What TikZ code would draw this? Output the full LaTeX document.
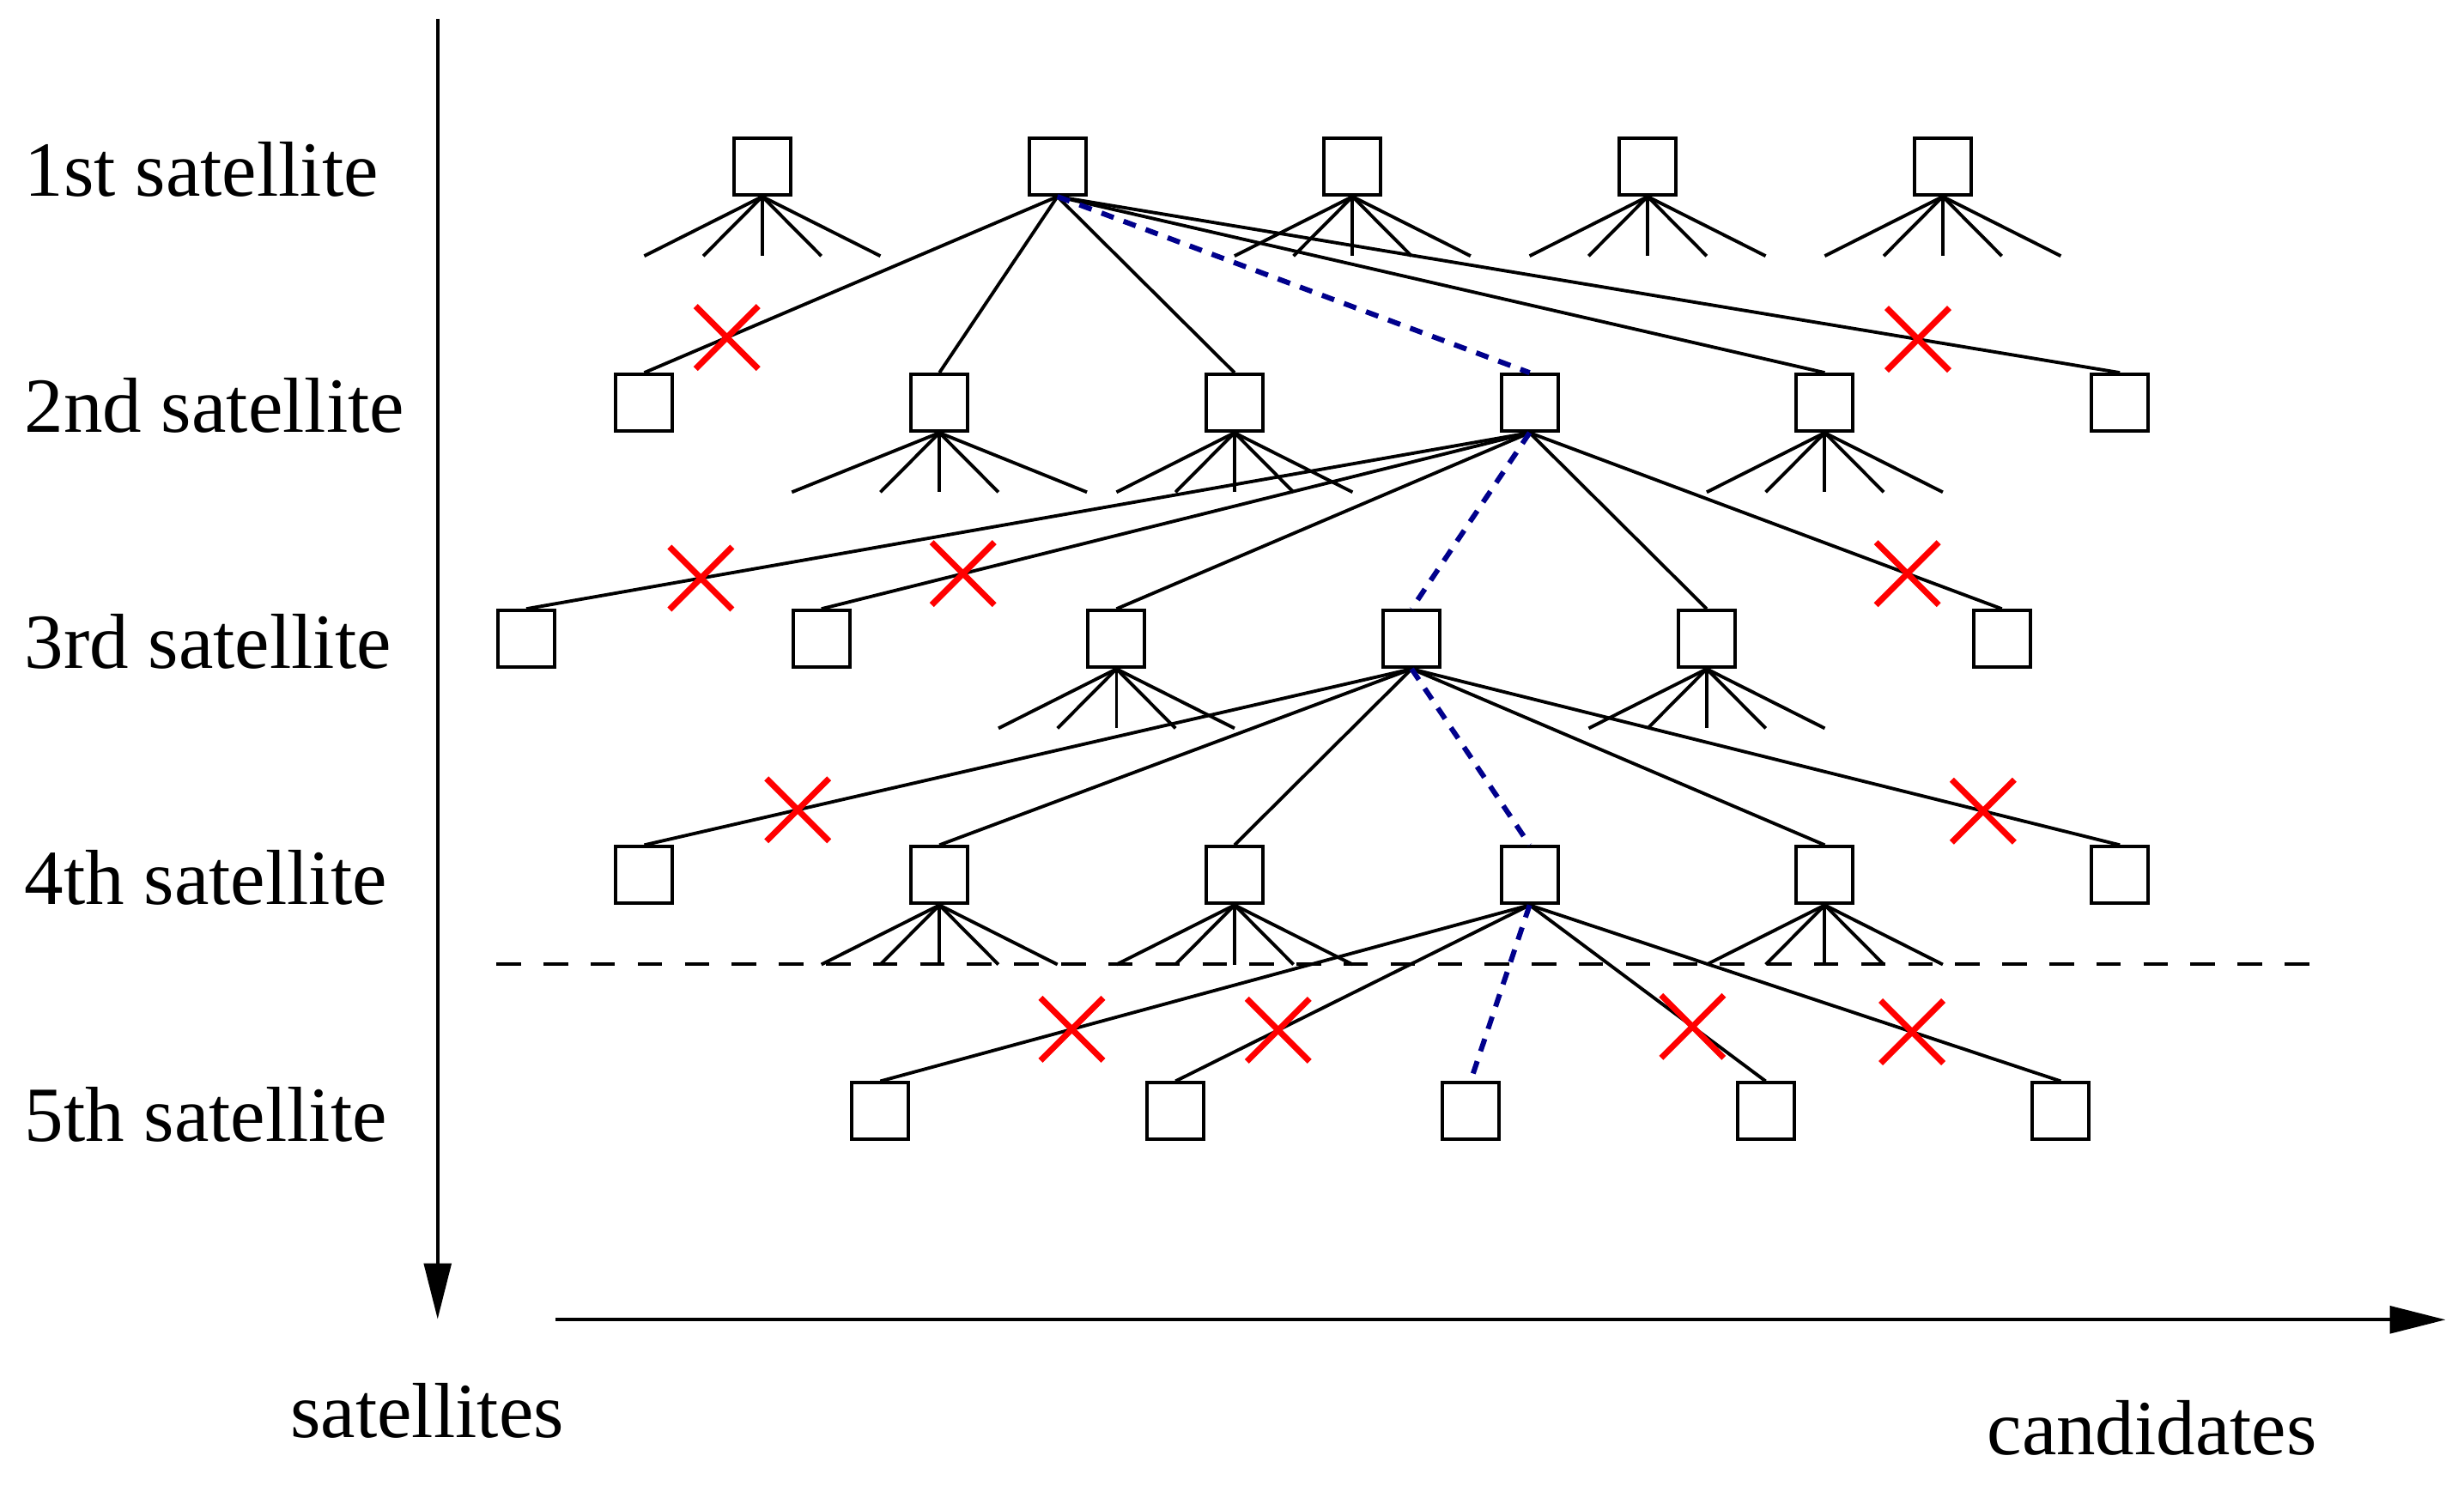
\documentclass[tikz,border=0pt]{standalone}
\usepackage{fontspec}
\setmainfont{Liberation Serif}
\usetikzlibrary{arrows.meta,shapes.misc,calc}
\definecolor{pathblue}{RGB}{0,0,140}
\newcommand\fanout[2][2]{\foreach \d in {-#1,-1,0,1,#1}{\draw[fanline] (#2.south) -- ++({\d*37.56},37.8);}}
\begin{document}
\begin{tikzpicture}[x=0.0183036cm, y=-0.0183036cm,
  box/.style={draw, line width=1.14pt, rectangle, minimum size=0.66cm, inner sep=0pt},
  conn/.style={line width=1.1pt},
  fanline/.style={line width=1.1pt},
  bluepath/.style={draw=pathblue, line width=1.7pt, dash pattern=on 4.3pt off 3.5pt},
  cut/.style={cross out, draw=red, line width=2pt, minimum size=0.66cm, inner sep=0pt},
  lbl/.style={anchor=base west, inner sep=0pt, font=\fontsize{25.9}{30}\selectfont},
  axis/.style={line width=1.14pt, -{Triangle[length=18.5pt,width=9pt]}},
  sep/.style={line width=1.14pt, dash pattern=on 8.1pt off 7.5pt}
]
\useasboundingbox (0,0) rectangle (1568,945.2);

% labels
\node[lbl] (l1) at (15.3,124.9) {1st satellite};
\node[lbl] (l2) at (15.3,275.2) {2nd satellite};
\node[lbl] (l3) at (15.3,425.5) {3rd satellite};
\node[lbl] (l4) at (15.3,575.8) {4th satellite};
\node[lbl] (l5) at (15.3,726.1) {5th satellite};
\node[lbl] (lsat) at (184.5,915) {satellites};
\node[lbl] (lcand) at (1264.2,926) {candidates};

% axes
\coordinate (vtop) at (278.5,12);
\coordinate (vbot) at (278.5,839.5);
\coordinate (hl) at (353.5,839.9);
\coordinate (hr) at (1556.3,839.9);
\draw[axis] (vtop) -- (vbot);
\draw[axis] (hl) -- (hr);

% boxes
\foreach \k in {0,...,4} \node[box] (r1c\k) at ({485.1+187.8*\k},106) {};
\foreach \k in {0,...,5} \node[box] (r2c\k) at ({410+187.8*\k},256.3) {};
\foreach \k in {0,...,5} \node[box] (r3c\k) at ({334.9+187.8*\k},406.6) {};
\foreach \k in {0,...,5} \node[box] (r4c\k) at ({410+187.8*\k},556.9) {};
\foreach \k in {0,...,4} \node[box] (r5c\k) at ({560.2+187.8*\k},707.2) {};

% fans
\fanout{r1c0}
\fanout{r1c2}
\fanout{r1c3}
\fanout{r1c4}
\fanout[2.5]{r2c1}
\fanout{r2c2}
\fanout{r2c4}
\fanout{r3c2}
\fanout{r3c4}
\fanout{r4c1}
\fanout{r4c2}
\fanout{r4c4}

% separator
\coordinate (dl) at (316,613.7);
\coordinate (dr) at (1476,613.7);
\draw[sep] (dl) -- (dr);

% connections
\foreach \k in {0,1,2,4,5} \draw[conn] (r1c1.south) -- (r2c\k.north);
\draw[bluepath] (r1c1.south) -- (r2c3.north);
\foreach \k in {0,1,2,4,5} \draw[conn] (r2c3.south) -- (r3c\k.north);
\draw[bluepath] (r2c3.south) -- (r3c3.north);
\foreach \k in {0,1,2,4,5} \draw[conn] (r3c3.south) -- (r4c\k.north);
\draw[bluepath] (r3c3.south) -- (r4c3.north);
\foreach \k in {0,1,3,4} \draw[conn] (r4c3.south) -- (r5c\k.north);
\draw[bluepath] (r4c3.south) -- (r5c2.north);

% cuts
\node[cut] (x1) at ($(r1c1.south)!0.80!(r2c0.north)$) {};
\node[cut] (x2) at ($(r1c1.south)!0.81!(r2c5.north)$) {};
\node[cut] (x3) at ($(r2c3.south)!0.826!(r3c0.north)$) {};
\node[cut] (x4) at ($(r2c3.south)!0.80!(r3c1.north)$) {};
\node[cut] (x5) at ($(r2c3.south)!0.80!(r3c5.north)$) {};
\node[cut] (x6) at ($(r3c3.south)!0.80!(r4c0.north)$) {};
\node[cut] (x7) at ($(r3c3.south)!0.807!(r4c5.north)$) {};
\node[cut] (x8) at ($(r4c3.south)!0.705!(r5c0.north)$) {};
\node[cut] (x9) at ($(r4c3.south)!0.71!(r5c1.north)$) {};
\node[cut] (x10) at ($(r4c3.south)!0.69!(r5c3.north)$) {};
\node[cut] (x11) at ($(r4c3.south)!0.72!(r5c4.north)$) {};
\end{tikzpicture}
\end{document}
